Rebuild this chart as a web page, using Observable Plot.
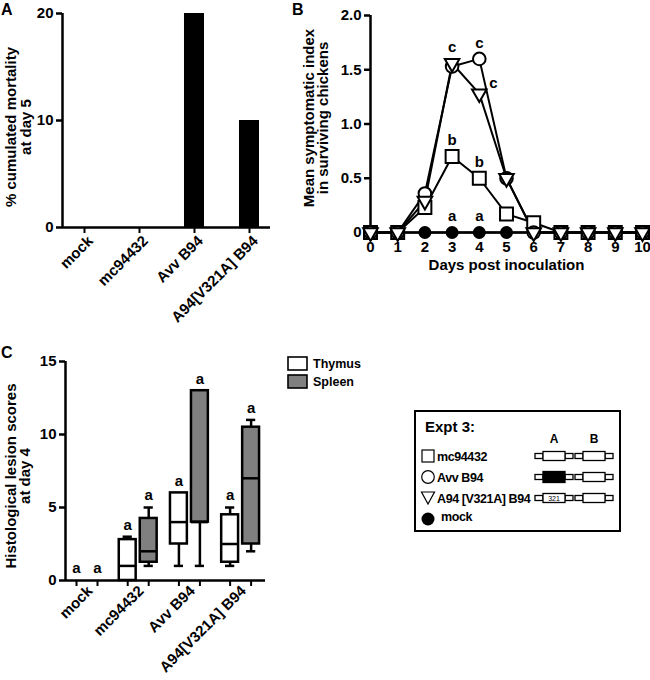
<!DOCTYPE html>
<html><head><meta charset="utf-8">
<script src="https://cdn.jsdelivr.net/npm/d3@7"></script>
<script src="https://cdn.jsdelivr.net/npm/@observablehq/plot@0.6"></script>
<style>
body{margin:0;background:#fff}
#root{position:relative;width:650px;height:680px;background:#fff;overflow:hidden}
</style></head><body><div id="root"></div>
<script>
// ---------- Panel A data ----------
const mortalityGroups = ["mock", "mc94432", "Avv B94", "A94[V321A] B94"];
const mortalityPct = [0, 0, 20, 10];
const mortalityTicks = [0, 10, 20];

// ---------- Panel B data ----------
const days = [0, 1, 2, 3, 4, 5, 6, 7, 8, 9, 10];
const symptMock    = [0, 0, 0, 0, 0, 0, 0, 0, 0, 0, 0];
const symptMc94432 = [0, 0, 0.23, 0.70, 0.50, 0.17, 0.09, 0, 0, 0, 0];
const symptAvvB94  = [0, 0, 0.36, 1.53, 1.60, 0.50, 0, 0, 0, 0, 0];
const symptA94     = [0, 0, 0.29, 1.56, 1.28, 0.50, 0, 0, 0, 0, 0];
const symptTicks = [0, 0.5, 1, 1.5, 2];
const dayTicks = [0, 1, 2, 3, 4, 5, 6, 7, 8, 9, 10];
// significance letters: [day, series, letter]
const symptLettersAbove = [[3, "A94", "c"], [4, "Avv", "c"], [3, "mc", "b"], [4, "mc", "b"], [3, "mock", "a"], [4, "mock", "a"]];
const symptLettersRight = [[4, "A94", "c"]];

// ---------- Panel C data ----------
const lesionGroups = ["mock", "mc94432", "Avv B94", "A94[V321A] B94"];
const thymusMin = [0, 0, 1, 1];
const thymusQ1  = [0, 0, 2.5, 1.25];
const thymusMed = [0, 1, 4, 2.5];
const thymusQ3  = [0, 2.8, 6, 4.5];
const thymusMax = [0, 3, 6, 5];
const spleenMin = [0, 1, 1, 2];
const spleenQ1  = [0, 1.25, 4, 2.5];
const spleenMed = [0, 2, 4, 7];
const spleenQ3  = [0, 4.25, 13, 10.5];
const spleenMax = [0, 5, 13, 11];
const thymusLetters = ["a", "a", "a", "a"];
const spleenLetters = ["a", "a", "a", "a"];
const lesionTicks = [0, 5, 10, 15];

// ---------- common ----------
const FONT = '"Liberation Sans", Arial, Helvetica, sans-serif';
const baseStyle = {fontFamily: FONT, fontSize: "15px", fontWeight: "bold", color: "#000", background: "transparent", overflow: "visible"};
const root = document.getElementById("root");
function place(svg, left, top) {
  svg.style.position = "absolute";
  svg.style.left = left + "px";
  svg.style.top = top + "px";
  root.appendChild(svg);
}

// ---------- Panel A ----------
const BAR_HW = 0.182;
const mortData = mortalityGroups.map((g, i) => ({i, pct: mortalityPct[i]}));
const plotA = Plot.plot({
  width: 300, height: 330,
  marginLeft: 62, marginRight: 30, marginTop: 13, marginBottom: 103,
  style: baseStyle,
  x: {domain: [-0.4, 3.382]},
  y: {domain: [0, 20]},
  marks: [
    Plot.rectY(mortData, {x1: d => d.i - BAR_HW, x2: d => d.i + BAR_HW, y: "pct", fill: "#000"}),
    Plot.axisY(mortalityTicks, {tickSize: 6, tickPadding: 3, strokeWidth: 2.5, label: null}),
    Plot.axisX(d3.range(mortalityGroups.length), {tickSize: 6, strokeWidth: 2, tickFormat: () => "", label: null}),
    Plot.axisX(d3.range(mortalityGroups.length), {tickSize: 0, tickPadding: 8, tickRotate: -45, dx: 6, dy: 3, label: null, tickFormat: i => mortalityGroups[i]}),
    Plot.ruleX([-0.4], {y1: 0, y2: 20, strokeWidth: 2.5}),
    Plot.ruleY([0], {strokeWidth: 2.5})
  ]
});
place(plotA, 0, 0);

// ---------- Panel B ----------
const series = {mock: symptMock, mc: symptMc94432, Avv: symptAvvB94, A94: symptA94};
const toRows = vals => days.map((d, i) => ({day: d, v: vals[i]}));
const letterRows = arr => arr.map(([day, s, t]) => ({day, v: series[s][days.indexOf(day)], t}));
const lineOpts = {x: "day", y: "v", stroke: "#000", strokeWidth: 2};
const dotBase = {x: "day", y: "v", stroke: "#000", strokeWidth: 2};
const plotB = Plot.plot({
  width: 350, height: 330,
  marginLeft: 70, marginRight: 8, marginTop: 15, marginBottom: 98,
  style: baseStyle,
  x: {domain: [0, 10]},
  y: {domain: [0, 2]},
  marks: [
    Plot.axisY(symptTicks, {tickSize: 6, tickPadding: 3, strokeWidth: 2.5, label: null,
      tickFormat: d => d === 0 ? "0" : d3.format(".1f")(d)}),
    Plot.ruleX([0], {y1: 0, y2: 2, strokeWidth: 2.5}),
    Plot.ruleY([0], {strokeWidth: 2.5}),
    Plot.line(toRows(symptMock), lineOpts),
    Plot.line(toRows(symptMc94432), lineOpts),
    Plot.line(toRows(symptAvvB94), lineOpts),
    Plot.line(toRows(symptA94), lineOpts),
    Plot.dot(toRows(symptMock), {...dotBase, symbol: "circle", r: 5.5, fill: "#000"}),
    Plot.dot(toRows(symptMc94432), {...dotBase, symbol: "square", r: 7.3, fill: "#fff"}),
    Plot.dot(toRows(symptAvvB94), {...dotBase, symbol: "circle", r: 6.3, fill: "#fff"}),
    Plot.dot(toRows(symptA94), {...dotBase, symbol: "triangle", r: 5.4, rotate: 180, fill: "#fff"}),
    Plot.text(letterRows(symptLettersAbove), {x: "day", y: "v", text: "t", dy: -16, fontSize: 15}),
    Plot.text(letterRows(symptLettersRight), {x: "day", y: "v", text: "t", dx: 14, dy: -10, fontSize: 15}),
    Plot.axisX(dayTicks, {tickSize: 0, tickPadding: 9, label: null}),
    Plot.text(["Days post inoculation"], {frameAnchor: "bottom", dy: 37, fontSize: 15})
  ]
});
place(plotB, 300, 0);

// ---------- Panel C ----------
const OFF = 0.205, HW = 0.165, CAP = 0.09;
const boxRows = [];
lesionGroups.forEach((g, i) => {
  boxRows.push({i, x: i - OFF, tissue: "Thymus", min: thymusMin[i], q1: thymusQ1[i], med: thymusMed[i], q3: thymusQ3[i], max: thymusMax[i], t: thymusLetters[i]});
  boxRows.push({i, x: i + OFF, tissue: "Spleen", min: spleenMin[i], q1: spleenQ1[i], med: spleenMed[i], q3: spleenQ3[i], max: spleenMax[i], t: spleenLetters[i]});
});
const vis = boxRows.filter(d => d.max > 0);
const SW = 2.5;
const plotC = Plot.plot({
  width: 330, height: 350,
  marginLeft: 65, marginRight: 65, marginTop: 31, marginBottom: 100,
  style: baseStyle,
  x: {domain: [-0.42, 3.486]},
  y: {domain: [0, 15]},
  marks: [
    Plot.ruleX(vis.filter(d => d.min < d.q1), {x: "x", y1: "min", y2: "q1", strokeWidth: SW}),
    Plot.ruleX(vis.filter(d => d.max > d.q3), {x: "x", y1: "q3", y2: "max", strokeWidth: SW}),
    Plot.ruleY(vis.filter(d => d.max > d.q3), {y: "max", x1: d => d.x - CAP, x2: d => d.x + CAP, strokeWidth: SW}),
    Plot.ruleY(vis.filter(d => d.min < d.q1), {y: "min", x1: d => d.x - CAP, x2: d => d.x + CAP, strokeWidth: SW}),
    Plot.rect(vis.filter(d => d.tissue === "Thymus"), {x1: d => d.x - HW, x2: d => d.x + HW, y1: "q1", y2: "q3", fill: "#fff", stroke: "#000", strokeWidth: SW}),
    Plot.rect(vis.filter(d => d.tissue === "Spleen"), {x1: d => d.x - HW, x2: d => d.x + HW, y1: "q1", y2: "q3", fill: "#808080", stroke: "#000", strokeWidth: SW}),
    Plot.ruleY(vis, {y: "med", x1: d => d.x - HW, x2: d => d.x + HW, strokeWidth: SW}),
    Plot.text(boxRows, {x: "x", y: "max", text: "t", dy: -12, fontSize: 15}),
    Plot.axisY(lesionTicks, {tickSize: 6, tickPadding: 3, strokeWidth: 2.5, label: null}),
    Plot.axisX(boxRows.map(d => d.x), {tickSize: 6, tickFormat: () => "", strokeWidth: 2, label: null}),
    Plot.axisX(d3.range(lesionGroups.length), {tickSize: 0, tickPadding: 8, tickRotate: -45, dx: 3, label: null, tickFormat: i => lesionGroups[i]}),
    Plot.ruleX([-0.42], {y1: 0, y2: 15, strokeWidth: 2.5}),
    Plot.ruleY([0], {strokeWidth: 2.5})
  ]
});
place(plotC, 0, 330);

// ---------- Overlay: panel letters, axis titles, legends ----------
const ov = d3.select(root).append("svg")
  .attr("width", 650).attr("height", 680)
  .style("position", "absolute").style("left", "0px").style("top", "0px")
  .style("pointer-events", "none")
  .attr("font-family", FONT).attr("font-weight", "bold").attr("fill", "#000");

ov.append("text").attr("x", 1).attr("y", 15).attr("font-size", 16).text("A");
ov.append("text").attr("x", 292).attr("y", 15).attr("font-size", 16).text("B");
ov.append("text").attr("x", 1).attr("y", 358).attr("font-size", 16).text("C");

function yTitle(cx, cy, lines, gap) {
  const g = ov.append("g").attr("transform", `translate(${cx},${cy}) rotate(-90)`);
  lines.forEach((ln, k) => {
    g.append("text").attr("x", 0).attr("y", (k - (lines.length - 1) / 2) * gap)
      .attr("dy", "0.35em").attr("text-anchor", "middle").attr("font-size", 15).text(ln);
  });
}
yTitle(18, 127, ["% cumulated mortality", "at day 5"], 14.5);
yTitle(315.5, 118, ["Mean symptomatic index", "in surviving chickens"], 14.5);
yTitle(17.5, 476, ["Histological lesion scores", "at day 4"], 14.5);

// tissue legend
ov.append("rect").attr("x", 288).attr("y", 357).attr("width", 19).attr("height", 13).attr("fill", "#fff").attr("stroke", "#000").attr("stroke-width", 1.6);
ov.append("rect").attr("x", 288).attr("y", 375).attr("width", 19).attr("height", 13).attr("fill", "#808080").attr("stroke", "#000").attr("stroke-width", 1.6);
ov.append("text").attr("x", 313).attr("y", 368).attr("font-size", 12.5).text("Thymus");
ov.append("text").attr("x", 313).attr("y", 386).attr("font-size", 12.5).text("Spleen");

// Expt 3 legend box
ov.append("rect").attr("x", 415).attr("y", 411).attr("width", 205).attr("height", 120).attr("fill", "none").attr("stroke", "#000").attr("stroke-width", 2);
ov.append("text").attr("x", 425).attr("y", 432).attr("font-size", 15).text("Expt 3:");
ov.append("text").attr("x", 554).attr("y", 443).attr("font-size", 12).attr("text-anchor", "middle").text("A");
ov.append("text").attr("x", 594).attr("y", 443).attr("font-size", 12).attr("text-anchor", "middle").text("B");

const rowsY = [456, 477, 498, 518];
ov.append("rect").attr("x", 422).attr("y", rowsY[0] - 6).attr("width", 12).attr("height", 12).attr("fill", "#fff").attr("stroke", "#000").attr("stroke-width", 1.2);
ov.append("circle").attr("cx", 428).attr("cy", rowsY[1]).attr("r", 6.3).attr("fill", "#fff").attr("stroke", "#000").attr("stroke-width", 1.2);
ov.append("path").attr("d", `M421.5,${rowsY[2] - 6}L434.5,${rowsY[2] - 6}L428,${rowsY[2] + 6}Z`).attr("fill", "#fff").attr("stroke", "#000").attr("stroke-width", 1.2);
ov.append("circle").attr("cx", 428).attr("cy", rowsY[3] + 1).attr("r", 6.5).attr("fill", "#000");
const legendNames = ["mc94432", "Avv B94", "A94 [V321A] B94", "mock"];
legendNames.forEach((n, k) => {
  ov.append("text").attr("x", k === 3 ? 441 : 437).attr("y", rowsY[k] + (k === 3 ? 3 : 5))
    .attr("font-size", 12.5).attr("letter-spacing", "-0.4").text(n);
});
function gene(x0, yc, fill, label) {
  const g = ov.append("g");
  g.append("rect").attr("x", x0).attr("y", yc - 2.5).attr("width", 8).attr("height", 5).attr("fill", "#fff").attr("stroke", "#000").attr("stroke-width", 1.3);
  g.append("rect").attr("x", x0 + 30).attr("y", yc - 2.5).attr("width", 8).attr("height", 5).attr("fill", "#fff").attr("stroke", "#000").attr("stroke-width", 1.3);
  const tall = fill === "#000" ? 11 : 9;
  g.append("rect").attr("x", x0 + 8).attr("y", yc - tall / 2).attr("width", 22).attr("height", tall).attr("fill", fill).attr("stroke", "#000").attr("stroke-width", 1.3);
  if (label) g.append("text").attr("x", x0 + 19).attr("y", yc + 2.5).attr("text-anchor", "middle").attr("font-size", 7).attr("font-weight", "normal").text(label);
}
gene(535, rowsY[0], "#fff"); gene(575, rowsY[0], "#fff");
gene(535, rowsY[1], "#000"); gene(575, rowsY[1], "#fff");
gene(535, rowsY[2], "#fff", "321"); gene(575, rowsY[2], "#fff");
</script>
</body></html>
